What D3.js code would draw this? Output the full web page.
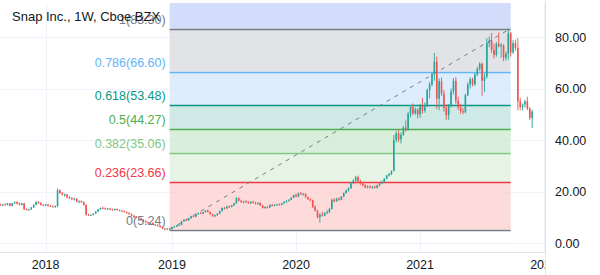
<!DOCTYPE html>
<html><head><meta charset="utf-8">
<script src="https://cdn.jsdelivr.net/npm/d3@7"></script>
<style>html,body{margin:0;padding:0;background:#fff;}svg{display:block;font-family:"Liberation Sans",Arial,sans-serif;}</style>
</head><body>
<svg id="c" width="600" height="275"></svg>
<script>
// ---- data ----
const title = "Snap Inc., 1W, Cboe BZX";
const startWeek = new Date(2017, 7, 21);   // first weekly bar (Monday)
const endWeek = new Date(2021, 11, 6);     // exclusive
const opens = [15.0,14.6,15.0,14.8,15.4,14.4,15.4,15.9,15.3,14.8,15.4,13.1,12.8,13.0,13.8,14.8,15.9,15.5,14.8,14.6,
15.0,14.4,14.2,14.0,14.3,20.5,19.4,18.4,18.9,17.7,17.4,17.0,17.2,16.0,16.3,15.8,14.8,11.0,10.8,10.9,
11.4,12.2,13.0,13.6,13.5,13.1,13.4,13.0,12.8,13.2,12.8,12.5,12.3,12.0,11.6,11.2,10.6,10.0,9.9,9.6,
9.0,8.4,8.0,7.6,7.8,7.2,6.8,6.6,6.2,5.6,5.3,5.6,5.4,6.2,6.4,6.9,7.0,8.4,9.0,8.8,
9.6,10.4,10.2,11.2,11.6,11.4,12.0,12.6,12.0,11.2,10.4,10.8,11.4,12.4,13.6,13.4,14.2,14.0,14.6,15.4,
17.4,16.4,15.9,16.2,15.8,15.4,16.0,15.6,15.2,15.6,14.6,13.6,14.0,13.8,14.8,14.4,14.8,15.0,14.8,15.4,
16.0,16.4,16.8,17.6,18.6,18.0,19.3,18.9,19.1,17.8,17.0,16.6,14.0,12.6,10.0,11.0,10.6,11.6,12.0,13.2,
16.8,16.2,17.2,16.8,18.0,19.4,20.4,21.2,23.2,24.2,25.6,24.0,23.0,22.4,21.6,22.0,21.6,21.8,21.4,22.4,
23.2,23.8,25.0,26.2,26.8,28.0,40.0,42.6,40.2,42.0,44.8,44.0,50.2,52.8,50.4,51.8,50.0,53.4,51.4,53.0,
59.4,61.6,65.6,70.4,56.0,62.8,58.0,52.4,49.6,53.2,58.8,63.0,55.2,52.6,51.2,50.8,57.4,61.6,63.6,61.6,
65.4,67.6,69.6,63.0,64.6,77.6,78.6,75.0,73.0,77.4,76.4,76.8,72.0,73.6,81.4,74.0,77.6,75.8,55.0,52.8,
53.8,55.0,52.2,48.6];
const highs = [15.3,15.2,15.4,15.6,15.5,15.6,16.2,16.2,15.8,15.6,15.6,13.5,13.3,14.0,15.0,16.2,16.3,15.8,15.2,15.2,
15.1,14.8,14.6,14.6,21.2,20.8,19.8,19.2,19.0,18.2,17.8,17.6,17.4,16.6,16.5,16.2,15.0,11.4,11.2,11.6,
12.4,13.2,13.8,14.2,13.8,13.6,13.7,13.4,13.4,13.4,13.0,12.8,12.6,12.2,12.0,11.5,10.9,10.4,10.2,9.8,
9.2,8.8,8.4,8.0,8.0,7.4,7.2,7.0,6.4,5.9,5.7,5.8,6.4,6.6,7.0,7.2,8.6,9.2,9.4,9.8,
10.6,10.9,11.4,11.8,12.0,12.2,12.8,13.0,12.2,11.4,11.0,11.6,12.6,13.8,14.0,14.4,14.6,14.8,15.6,17.9,
17.6,16.8,16.4,16.6,16.2,16.2,16.4,16.0,15.8,15.8,14.8,14.2,14.4,15.0,15.2,15.0,15.2,15.4,15.6,16.2,
16.6,17.0,17.8,18.8,19.2,19.6,19.9,19.4,19.3,18.0,17.4,16.8,14.6,12.8,11.6,12.2,12.0,12.8,13.6,17.2,
17.4,17.6,17.8,18.2,19.6,20.8,21.6,23.6,24.8,26.0,26.2,24.6,23.8,22.8,22.4,22.4,22.2,22.4,22.6,23.6,
24.2,25.2,26.4,27.2,28.2,42.0,43.6,44.0,43.0,45.4,47.6,51.0,53.6,54.2,52.6,52.4,54.0,56.4,54.6,60.0,
62.6,66.4,73.8,72.4,64.0,64.2,59.4,53.8,54.0,60.0,64.0,64.4,56.8,54.0,52.4,58.0,62.4,64.4,64.2,66.0,
68.4,70.2,70.0,66.0,79.6,80.2,81.6,77.4,78.0,81.8,77.6,77.2,74.4,83.3,82.0,78.8,79.0,79.6,56.4,54.2,
55.6,56.8,52.8,51.8];
const lows = [14.4,14.3,14.6,14.6,14.2,14.3,15.2,15.0,14.6,14.6,12.8,12.6,12.5,12.9,13.6,14.6,15.2,14.6,14.4,14.4,
14.2,14.0,13.8,13.6,14.0,19.0,18.4,18.0,17.4,17.0,16.6,16.5,15.8,15.3,15.6,14.4,10.6,10.5,10.5,10.7,
11.2,12.0,12.8,13.2,12.9,12.8,12.8,12.5,12.6,12.6,12.3,12.0,11.8,11.4,11.0,10.4,9.8,9.6,9.4,8.8,
8.2,7.8,7.4,7.2,7.0,6.6,6.4,6.0,5.4,4.9,5.0,5.2,5.3,6.0,6.2,6.6,6.9,8.2,8.6,8.7,
9.4,10.0,10.0,11.0,11.2,11.2,11.8,11.9,11.0,10.2,10.0,10.6,11.2,12.2,13.0,13.2,13.6,13.8,14.4,15.2,
16.2,15.6,15.4,15.6,15.2,15.2,15.4,15.0,14.8,14.4,13.4,13.2,13.4,13.6,14.2,14.2,14.4,14.6,14.6,15.2,
15.6,16.0,16.6,17.4,17.8,17.8,18.6,18.4,17.6,16.8,16.2,13.6,12.2,9.6,7.9,10.2,10.4,11.2,11.6,13.0,
15.8,16.0,16.4,16.6,17.8,19.2,20.0,21.0,22.8,23.8,23.6,22.6,22.0,21.2,21.2,21.2,21.0,21.2,21.2,22.0,
22.8,23.6,24.8,25.8,26.4,27.8,39.0,39.2,38.6,41.6,43.2,43.6,48.8,49.6,49.8,48.4,48.6,50.2,50.6,52.8,
56.2,60.8,63.0,52.0,51.6,57.0,51.0,47.8,47.8,52.6,57.6,54.0,51.6,50.2,50.0,50.4,57.0,60.0,60.8,61.0,
64.8,66.8,57.2,58.6,63.8,76.0,73.8,71.6,72.4,76.0,72.0,70.6,70.8,71.2,72.4,73.4,74.6,51.6,51.6,51.4,
52.6,51.6,47.8,44.6];
const closes = [14.6,15.0,14.8,15.4,14.4,15.4,15.9,15.3,14.8,15.4,13.1,12.8,13.0,13.8,14.8,15.9,15.5,14.8,14.6,15.0,
14.4,14.2,14.0,14.3,20.5,19.4,18.8,18.9,17.7,17.4,17.0,17.2,16.0,16.3,15.8,14.8,11.0,10.8,10.9,11.4,
12.2,13.0,13.6,13.5,13.1,13.4,13.0,12.8,13.2,12.8,12.5,12.3,12.0,11.6,11.2,10.6,10.0,9.9,9.6,9.0,
8.4,8.0,7.6,7.8,7.2,6.8,6.6,6.2,5.6,5.3,5.6,5.4,6.2,6.4,6.9,7.0,8.4,9.0,8.8,9.6,
10.4,10.2,11.2,11.6,11.4,12.0,12.6,12.0,11.2,10.4,10.8,11.4,12.4,13.6,13.4,14.2,14.0,14.6,15.4,17.4,
16.4,15.9,16.2,15.8,15.4,16.0,15.6,15.2,15.6,14.6,13.6,14.0,13.8,14.8,14.4,14.8,15.0,14.8,15.4,16.0,
16.4,16.8,17.6,18.6,18.0,19.3,18.9,19.1,17.8,17.0,16.6,14.0,12.6,10.0,11.0,10.6,11.6,12.0,13.2,16.8,
16.2,17.2,16.8,18.0,19.4,20.4,21.2,23.2,24.2,25.6,24.0,23.0,22.4,21.6,22.0,21.6,21.8,21.4,22.4,23.2,
23.8,25.0,26.2,26.8,27.8,40.0,42.6,40.2,42.0,44.8,44.0,50.2,52.8,50.4,51.8,50.0,53.4,51.4,53.0,59.4,
61.6,65.6,70.4,56.0,62.8,58.0,52.4,49.6,53.2,58.8,63.0,55.2,52.6,51.2,50.8,57.4,61.6,63.6,61.6,65.4,
67.6,69.6,63.0,64.6,77.6,78.6,75.0,73.0,77.4,76.4,76.8,72.0,73.6,81.4,74.0,77.6,75.8,55.0,52.8,53.8,
55.0,52.2,48.6,51.0];

const yTicks = [0, 20, 40, 60, 80];
const years = [2018, 2019, 2020, 2021, 2022];

// Fibonacci retracement drawing
const fibStart = new Date(2018, 11, 31);
const fibEnd = new Date(2021, 8, 27);
const fibLevels = ["0", "0.236", "0.382", "0.5", "0.618", "0.786", "1"];
const fibValues = [5.24, 23.66, 35.06, 44.27, 53.48, 66.60, 83.30];
const fibLineColors = ["#787b86", "#f23645", "#81c784", "#4caf50", "#089981", "#64b5f6", "#787b86"];
const fibFills = ["#fddbdb", "#e6f4e5", "#daefdb", "#cfeae6", "#ddedfb", "#e2e3e6", "#d3ddfb"];

// ---- layout ----
const W = 600, H = 275, plotR = 545, plotB = 252, plotT = 3;
const svg = d3.select("#c");
svg.append("rect").attr("width", W).attr("height", H).attr("fill", "#fff");

const dates = d3.timeMonday.range(startWeek, endWeek);
const idx = d => d3.timeMonday.count(startWeek, d);
const x = d3.scaleLinear().domain([0, dates.length - 1]).range([0.3, 0.3 + (dates.length - 1) * 2.385]);
const y = d3.scaleLinear().domain([0, 80]).range([243, 37]);

svg.append("defs").append("clipPath").attr("id", "pc")
  .append("rect").attr("x", 0).attr("y", plotT).attr("width", plotR).attr("height", plotB - plotT);

const plot = svg.append("g").attr("clip-path", "url(#pc)");

// grid
const yearIdx = years.map(yr => idx(d3.timeMonday.ceil(new Date(yr, 0, 1))));
plot.append("g").selectAll("line").data(yTicks).join("line")
  .attr("x1", 0).attr("x2", plotR).attr("y1", d => Math.round(y(d)) + 0.5).attr("y2", d => Math.round(y(d)) + 0.5)
  .attr("stroke", "#f0f3fa").attr("stroke-width", 1);
plot.append("g").selectAll("line").data(yearIdx).join("line")
  .attr("y1", 0).attr("y2", plotB).attr("x1", d => Math.round(x(d)) + 0.5).attr("x2", d => Math.round(x(d)) + 0.5)
  .attr("stroke", "#f0f3fa").attr("stroke-width", 1);

// fib fills
const fx1 = x(idx(fibStart)), fx2 = x(idx(fibEnd));
const bounds = fibValues.map(v => y(v));
const fillG = plot.append("g");
fibFills.forEach((c, k) => {
  const yBot = bounds[k];
  const yTop = k + 1 < bounds.length ? bounds[k + 1] : plotT;
  if (k === 0) {
    // region from 0 to 0.236 uses fill index 0
  }
  const lo = k === fibFills.length - 1 ? bounds[bounds.length - 1] : bounds[k];
  const hi = k === fibFills.length - 1 ? plotT : bounds[k + 1];
  fillG.append("rect").attr("x", fx1).attr("width", fx2 - fx1)
    .attr("y", hi).attr("height", lo - hi).attr("fill", c);
});
// faint grid over fills
plot.append("g").selectAll("line").data(yTicks).join("line")
  .attr("x1", fx1).attr("x2", fx2).attr("y1", d => Math.round(y(d)) + 0.5).attr("y2", d => Math.round(y(d)) + 0.5)
  .attr("stroke", "#000").attr("stroke-opacity", 0.04).attr("stroke-dasharray", "1,2");

// fib lines
plot.append("g").selectAll("line").data(fibValues).join("line")
  .attr("x1", fx1).attr("x2", fx2)
  .attr("y1", d => Math.round(y(d)) + 0.5).attr("y2", d => Math.round(y(d)) + 0.5)
  .attr("stroke", (d, k) => fibLineColors[k]).attr("stroke-width", 1.3);

// trend dashed line
plot.append("line")
  .attr("x1", fx1).attr("y1", y(fibValues[0])).attr("x2", fx2).attr("y2", y(fibValues[6]))
  .attr("stroke", "#787b86").attr("stroke-width", 1).attr("stroke-dasharray", "4,5");

// candles
const bars = d3.range(dates.length).map(i => ({i, o: opens[i], h: highs[i], l: lows[i], c: closes[i]}));
const cg = plot.append("g");
cg.selectAll("line").data(bars).join("line")
  .attr("x1", d => x(d.i)).attr("x2", d => x(d.i))
  .attr("y1", d => y(d.h)).attr("y2", d => y(d.l))
  .attr("stroke", d => d.c >= d.o ? "#26a69a" : "#ef5350").attr("stroke-width", 0.9);
cg.selectAll("rect").data(bars).join("rect")
  .attr("x", d => x(d.i) - 0.8).attr("width", 1.6)
  .attr("y", d => y(Math.max(d.o, d.c)))
  .attr("height", d => Math.max(0.8, Math.abs(y(d.o) - y(d.c))))
  .attr("fill", d => d.c >= d.o ? "#26a69a" : "#ef5350");

// fib labels
svg.append("g").selectAll("text").data(fibValues).join("text")
  .attr("x", fx1 - 4).attr("y", d => y(d) - 5)
  .attr("text-anchor", "end").attr("font-size", 12.5)
  .attr("fill", (d, k) => fibLineColors[k])
  .text((d, k) => fibLevels[k] + "(" + d.toFixed(2) + ")");

// title
svg.append("text").attr("x", 12).attr("y", 21).attr("font-size", 13).attr("fill", "#131722").text(title);

// axes separators
svg.append("line").attr("x1", plotR + 0.5).attr("x2", plotR + 0.5).attr("y1", 0).attr("y2", H).attr("stroke", "#e0e3eb");
svg.append("line").attr("x1", 0).attr("x2", plotR).attr("y1", plotB + 0.5).attr("y2", plotB + 0.5).attr("stroke", "#e0e3eb");

// right axis
const ra = svg.append("g").attr("transform", `translate(${plotR},0)`)
  .call(d3.axisRight(y).tickValues(yTicks).tickSize(0).tickPadding(10).tickFormat(d => d.toFixed(2)));
ra.select(".domain").remove();
ra.selectAll("text").attr("font-size", 12.5).attr("fill", "#131722").attr("font-family", "Liberation Sans, Arial, sans-serif");

// bottom axis (year labels)
svg.append("defs").append("clipPath").attr("id", "xc").append("rect").attr("x", 0).attr("y", plotB).attr("width", plotR).attr("height", H - plotB);
const xa = svg.append("g").attr("clip-path", "url(#xc)");
xa.selectAll("text").data(years).join("text")
  .attr("x", (d, k) => x(yearIdx[k])).attr("y", 269)
  .attr("text-anchor", "middle").attr("font-size", 12.5).attr("fill", "#131722")
  .text(d => d);
</script>
</body></html>
